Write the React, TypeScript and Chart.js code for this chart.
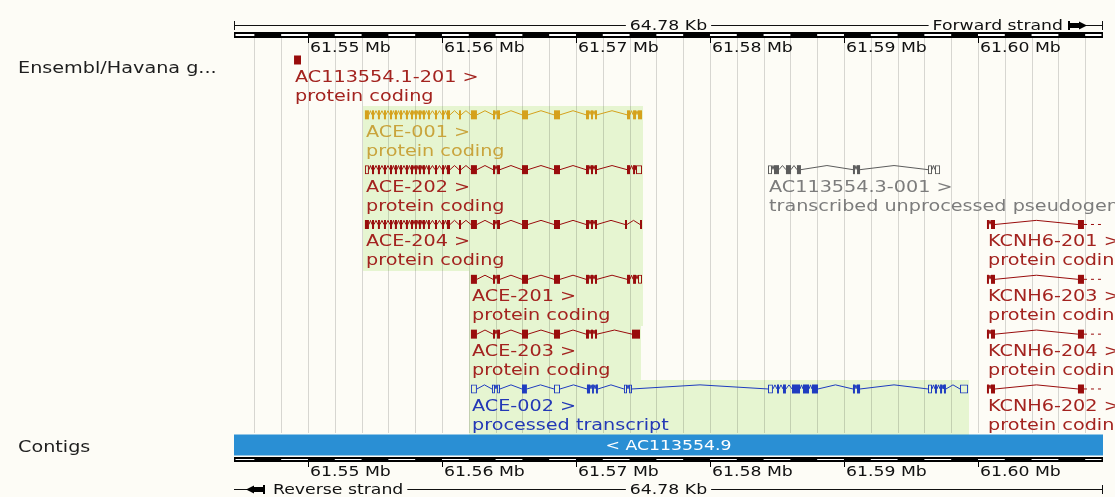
import React, { useEffect, useRef } from 'react';
import { Chart, registerables } from 'chart.js';

Chart.register(...registerables);

// ---------------- data ----------------
const VIEW_START = 61.54448; // Mb
const VIEW_END = 61.60933; // Mb
const REGION_LABEL = '64.78 Kb';
const RULER_TICKS = [61.55, 61.56, 61.57, 61.58, 61.59, 61.6];
const RULER_TICK_LABELS = ['61.55 Mb', '61.56 Mb', '61.57 Mb', '61.58 Mb', '61.59 Mb', '61.60 Mb'];
const RULER_BLOCK = 0.002; // Mb, ruler block / grid spacing
const TRACK_NAMES = ['Ensembl/Havana g...', 'Contigs'];
const STRAND_LABELS = ['Forward strand', 'Reverse strand'];

const CONTIG_NAME = '< AC113554.9';
const CONTIG_START = 61.53;
const CONTIG_END = 61.62;
const CONTIG_LANE = 7.02;

const TRANSCRIPT_NAMES = [
  'AC113554.1-201', 'ACE-001', 'ACE-202', 'AC113554.3-001', 'ACE-204', 'KCNH6-201',
  'ACE-201', 'KCNH6-203', 'ACE-203', 'KCNH6-204', 'ACE-002', 'KCNH6-202',
];
const TRANSCRIPT_BIOTYPES = [
  'protein coding', 'protein coding', 'protein coding', 'transcribed unprocessed pseudogene',
  'protein coding', 'protein coding', 'protein coding', 'protein coding', 'protein coding',
  'protein coding', 'processed transcript', 'protein coding',
];
const TRANSCRIPT_SOURCES = [
  'ensembl', 'merged', 'ensembl', 'pseudogene', 'ensembl', 'ensembl',
  'ensembl', 'ensembl', 'ensembl', 'ensembl', 'processed', 'ensembl',
];
const TRANSCRIPT_LANES = [0, 1, 2, 2, 3, 3, 4, 4, 5, 5, 6, 6];
const TRANSCRIPT_SELECTED = [false, true, true, false, true, false, true, false, true, false, true, false];
const TRANSCRIPT_CONTINUES = [false, false, false, false, false, true, false, true, false, true, false, true];

const ACE_5P_EXONS = [
  [61.55425, 61.55455], [61.55478, 61.55493], [61.55522, 61.55537], [61.55567, 61.55582],
  [61.55612, 61.55627], [61.55649, 61.55664], [61.55687, 61.55702], [61.55731, 61.55746],
  [61.55769, 61.55784], [61.55799, 61.55813], [61.55828, 61.55843], [61.55858, 61.55873],
  [61.55896, 61.5591], [61.55948, 61.55963], [61.56, 61.56015], [61.56037, 61.5606],
  [61.56127, 61.56142],
];
const ACE_3P_EXONS = [
  [61.56216, 61.56261], [61.56381, 61.56396], [61.56411, 61.56433], [61.56597, 61.56642],
  [61.56836, 61.56881], [61.57075, 61.57097], [61.57112, 61.57127], [61.57142, 61.57157],
];
const EXONS_AC113554_1_201 = [[61.54896, 61.54948]];
const EXONS_ACE_001 = [...ACE_5P_EXONS, ...ACE_3P_EXONS, [61.57381, 61.57403], [61.57426, 61.57448], [61.57463, 61.57493]];
const EXONS_ACE_202 = [...ACE_5P_EXONS.slice(1), ...ACE_3P_EXONS, [61.57381, 61.57403], [61.57426, 61.57441]];
const UTR_ACE_202 = [[61.55425, 61.55455], [61.57448, 61.57493]];
const EXONS_AC113554_3_001 = [[61.58478, 61.58515], [61.58567, 61.58605], [61.58649, 61.58679], [61.59067, 61.59082], [61.59097, 61.5912]];
const UTR_AC113554_3_001 = [[61.58433, 61.58463], [61.59627, 61.59657], [61.59679, 61.59717]];
const EXONS_ACE_204 = [...ACE_5P_EXONS, ...ACE_3P_EXONS, [61.57366, 61.57381], [61.57478, 61.57493]];
const EXONS_KCNH6 = [[61.60067, 61.60082], [61.60097, 61.60127], [61.60746, 61.60791]];
const EXONS_ACE_201 = [...ACE_3P_EXONS, [61.57381, 61.57403], [61.57426, 61.57448]];
const UTR_ACE_201 = [[61.57463, 61.57493]];
const EXONS_ACE_203 = [...ACE_3P_EXONS, [61.57418, 61.57478]];
const EXONS_ACE_002 = [
  [61.56597, 61.56634], [61.57082, 61.57105], [61.5712, 61.57134], [61.57149, 61.57164],
  [61.585, 61.58515], [61.58545, 61.58567], [61.58612, 61.58672], [61.58694, 61.58739],
  [61.58761, 61.58806], [61.59067, 61.59082], [61.59097, 61.5912], [61.59679, 61.59694],
  [61.59717, 61.59732], [61.59746, 61.59761],
];
const UTR_ACE_002 = [
  [61.56216, 61.56261], [61.56373, 61.56396], [61.56411, 61.56433], [61.56836, 61.56881],
  [61.57358, 61.57381], [61.57396, 61.57418], [61.58433, 61.5847], [61.59627, 61.59657],
  [61.59866, 61.59926],
];

const TRANSCRIPT_EXONS = [
  EXONS_AC113554_1_201, EXONS_ACE_001, EXONS_ACE_202, EXONS_AC113554_3_001, EXONS_ACE_204, EXONS_KCNH6,
  EXONS_ACE_201, EXONS_KCNH6, EXONS_ACE_203, EXONS_KCNH6, EXONS_ACE_002, EXONS_KCNH6,
];
const TRANSCRIPT_UTRS = [
  [], [], UTR_ACE_202, UTR_AC113554_3_001, [], [], UTR_ACE_201, [], [], [], UTR_ACE_002, [],
];

// ---------------- styles ----------------
const BG = '#fdfcf6';
const HIGHLIGHT = '#e6f5d1';
const GRID = 'rgba(0,0,0,0.15)';
const CONTIG_COLOR = '#2a8fd4';
const GLYPH_COLORS: Record<string, string> = {
  ensembl: '#990c0c', merged: '#d5a11c', processed: '#1f3cc0', pseudogene: '#5c5c5c',
};
const LABEL_COLORS: Record<string, string> = {
  ensembl: '#a3231f', merged: '#c9a43c', processed: '#2338b6', pseudogene: '#7c7c7c',
};
const FONT = '"DejaVu Sans", "Liberation Sans", sans-serif';
const SX = 1.28; // horizontal text stretch
const Y_MIN = -1.094;
const Y_MAX = 7.97;
const HAT = 0.075; // intron hat height (lane units)

function drawText(ctx: CanvasRenderingContext2D, s: string, x: number, y: number, size: number, color: string, align: CanvasTextAlign = 'left') {
  ctx.save();
  ctx.font = `${size}px ${FONT}`;
  ctx.fillStyle = color;
  ctx.textAlign = align;
  ctx.textBaseline = 'alphabetic';
  ctx.translate(x, y);
  ctx.scale(SX, 1);
  ctx.fillText(s, 0, 0);
  ctx.restore();
}
function textWidth(ctx: CanvasRenderingContext2D, s: string, size: number) {
  ctx.save();
  ctx.font = `${size}px ${FONT}`;
  const w = ctx.measureText(s).width * SX;
  ctx.restore();
  return w;
}
function hline(ctx: CanvasRenderingContext2D, a: number, b: number, y: number) {
  ctx.beginPath();
  ctx.moveTo(a, y);
  ctx.lineTo(b, y);
  ctx.stroke();
}
function vline(ctx: CanvasRenderingContext2D, x: number, a: number, b: number) {
  ctx.beginPath();
  ctx.moveTo(x, a);
  ctx.lineTo(x, b);
  ctx.stroke();
}

function extent(i: number) {
  const all = [...TRANSCRIPT_EXONS[i], ...TRANSCRIPT_UTRS[i]];
  return [Math.min(...all.map((e) => e[0])), Math.max(...all.map((e) => e[1]))];
}

function buildDatasets() {
  const ds: any[] = [];
  TRANSCRIPT_NAMES.forEach((_, i) => {
    const lane = TRANSCRIPT_LANES[i];
    const color = GLYPH_COLORS[TRANSCRIPT_SOURCES[i]];
    const exons = TRANSCRIPT_EXONS[i];
    const utrs = TRANSCRIPT_UTRS[i];
    const all = [...exons, ...utrs].sort((a, b) => a[0] - b[0]);
    const pts: any[] = [];
    for (let k = 0; k < all.length - 1; k++) {
      const e = all[k][1];
      const s = all[k + 1][0];
      if (s > e) {
        pts.push({ x: e, y: lane }, { x: (e + s) / 2, y: lane - HAT }, { x: s, y: lane }, { x: s, y: null });
      }
    }
    ds.push({
      type: 'line', indexAxis: 'x', data: pts, borderColor: color, borderWidth: 1,
      pointRadius: 0, fill: false, spanGaps: false, tension: 0, order: 2, clip: 0,
    });
    if (TRANSCRIPT_CONTINUES[i]) {
      const end = all[all.length - 1][1];
      ds.push({
        type: 'line', indexAxis: 'x', data: [{ x: end, y: lane }, { x: VIEW_END + 0.002, y: lane }],
        borderColor: color, borderWidth: 1, borderDash: [3, 4], pointRadius: 0, fill: false, order: 2, clip: 0,
      });
    }
    if (exons.length) {
      ds.push({
        type: 'bar', data: exons.map((e) => ({ x: [e[0], e[1]], y: lane })),
        backgroundColor: color, borderWidth: 0, barThickness: 9, stack: 'g', order: 1, clip: 0,
        inflateAmount: 0,
      });
    }
    if (utrs.length) {
      ds.push({
        type: 'bar', data: utrs.map((e) => ({ x: [e[0], e[1]], y: lane })),
        backgroundColor: 'rgba(0,0,0,0)', borderColor: color, borderWidth: 1, borderSkipped: false,
        barThickness: 9, stack: 'g', order: 1, clip: 0, inflateAmount: 0,
      });
    }
  });
  ds.push({
    type: 'bar', data: [{ x: [CONTIG_START, CONTIG_END], y: CONTIG_LANE }],
    backgroundColor: CONTIG_COLOR, borderWidth: 0, barThickness: 21, stack: 'g', order: 1, clip: 0,
    inflateAmount: 0,
  });
  return ds;
}

const genomePlugin = {
  id: 'genome',
  beforeDraw(chart: any) {
    const ctx = chart.ctx as CanvasRenderingContext2D;
    ctx.save();
    ctx.fillStyle = BG;
    ctx.fillRect(0, 0, chart.width, chart.height);
    ctx.restore();
  },
  beforeDatasetsDraw(chart: any) {
    const ctx = chart.ctx as CanvasRenderingContext2D;
    const xs = chart.scales.x;
    const ys = chart.scales.y;
    ctx.save();
    // highlights
    ctx.fillStyle = HIGHLIGHT;
    TRANSCRIPT_NAMES.forEach((_, i) => {
      if (!TRANSCRIPT_SELECTED[i]) return;
      const [s, e] = extent(i);
      const lane = TRANSCRIPT_LANES[i];
      const x0 = Math.round(xs.getPixelForValue(s)) - 2;
      const x1 = Math.round(xs.getPixelForValue(e)) + 1;
      const y0 = Math.round(ys.getPixelForValue(lane) - 8.5);
      const y1 = Math.round(ys.getPixelForValue(lane + 1) - 8.5);
      ctx.fillRect(x0, y0, x1 - x0, y1 - y0);
    });
    // grid
    ctx.strokeStyle = GRID;
    ctx.lineWidth = 1;
    for (let k = Math.ceil(VIEW_START / RULER_BLOCK); k * RULER_BLOCK <= VIEW_END; k++) {
      const x = Math.round(xs.getPixelForValue(k * RULER_BLOCK)) + 0.5;
      vline(ctx, x, 38, 433);
    }
    ctx.restore();
  },
  afterDatasetsDraw(chart: any) {
    const ctx = chart.ctx as CanvasRenderingContext2D;
    const xs = chart.scales.x;
    const ys = chart.scales.y;
    const area = chart.chartArea;
    const x0 = area.left;
    const x1 = area.right;
    const mid = (x0 + x1) / 2;
    ctx.save();

    // transcript labels
    TRANSCRIPT_NAMES.forEach((name, i) => {
      const [s] = extent(i);
      const x = Math.round(xs.getPixelForValue(s)) + 1;
      const y = ys.getPixelForValue(TRANSCRIPT_LANES[i]);
      const c = LABEL_COLORS[TRANSCRIPT_SOURCES[i]];
      drawText(ctx, name + ' >', x, y + 22, 15, c);
      drawText(ctx, TRANSCRIPT_BIOTYPES[i], x, y + 41, 15, c);
    });

    // contig name
    drawText(ctx, CONTIG_NAME, mid, ys.getPixelForValue(CONTIG_LANE) + 5, 13.5, '#ffffff', 'center');

    // track names
    drawText(ctx, TRACK_NAMES[0], 18, 73, 15, '#1e1e1e');
    drawText(ctx, TRACK_NAMES[1], 18, 451.5, 15, '#1e1e1e');

    // rulers
    const drawBar = (top: number, h: number) => {
      ctx.fillStyle = '#000';
      ctx.fillRect(x0, top, x1 - x0, h);
      ctx.fillStyle = '#ffffff';
      for (let k = Math.floor(VIEW_START / RULER_BLOCK); k * RULER_BLOCK < VIEW_END; k++) {
        if (k % 2 !== 0) continue;
        const a = Math.max(xs.getPixelForValue(k * RULER_BLOCK), x0 + 1.5);
        const b = Math.min(xs.getPixelForValue((k + 1) * RULER_BLOCK), x1 - 1.5);
        if (b > a) ctx.fillRect(a, top + 2, b - a, h - 4);
      }
    };
    ctx.strokeStyle = '#000';
    ctx.lineWidth = 1;
    drawBar(32, 6);
    drawBar(457, 5);
    RULER_TICKS.forEach((v, k) => {
      const x = Math.round(xs.getPixelForValue(v)) + 0.5;
      ctx.strokeStyle = '#000';
      vline(ctx, x, 38, 43);
      vline(ctx, x, 462, 467);
      drawText(ctx, RULER_TICK_LABELS[k], x + 1.5, 52, 13.5, '#111');
      drawText(ctx, RULER_TICK_LABELS[k], x + 1.5, 476, 13.5, '#111');
    });

    // top scale line
    const kbW = textWidth(ctx, REGION_LABEL, 13.5);
    const fwdW = textWidth(ctx, STRAND_LABELS[0], 13.5);
    const fwdRight = x1 - 40;
    ctx.strokeStyle = '#111';
    let ty = 25.5;
    hline(ctx, x0, mid - kbW / 2 - 4, ty);
    drawText(ctx, REGION_LABEL, mid, 30, 13.5, '#111', 'center');
    hline(ctx, mid + kbW / 2 + 4, fwdRight - fwdW - 4, ty);
    drawText(ctx, STRAND_LABELS[0], fwdRight, 30, 13.5, '#111', 'right');
    // forward icon
    ctx.fillStyle = '#000';
    const ix = fwdRight + 5;
    ctx.fillRect(ix, 21, 2, 9);
    ctx.fillRect(ix + 2, 23, 9, 5);
    ctx.beginPath();
    ctx.moveTo(ix + 11, 21.5);
    ctx.lineTo(ix + 19, 25.5);
    ctx.lineTo(ix + 11, 29.5);
    ctx.closePath();
    ctx.fill();
    hline(ctx, ix + 18, x1, ty);
    vline(ctx, x0 + 0.5, 21, 30);
    vline(ctx, x1 - 0.5, 21, 30);

    // bottom scale line
    ty = 489.5;
    const revX = x0 + 39;
    const revW = textWidth(ctx, STRAND_LABELS[1], 13.5);
    hline(ctx, x0, x0 + 13, ty);
    const jx = x0 + 12;
    ctx.beginPath();
    ctx.moveTo(jx, ty);
    ctx.lineTo(jx + 8, ty - 4);
    ctx.lineTo(jx + 8, ty + 4);
    ctx.closePath();
    ctx.fill();
    ctx.fillRect(jx + 8, ty - 2.5, 9, 5);
    ctx.fillRect(jx + 17, ty - 4.5, 2, 9);
    drawText(ctx, STRAND_LABELS[1], revX, 494, 13.5, '#111');
    hline(ctx, revX + revW + 4, mid - kbW / 2 - 4, ty);
    drawText(ctx, REGION_LABEL, mid, 494, 13.5, '#111', 'center');
    hline(ctx, mid + kbW / 2 + 4, x1, ty);
    vline(ctx, x1 - 0.5, ty - 4.5, ty + 4.5);

    ctx.restore();
  },
};

export default function App() {
  const ref = useRef<HTMLCanvasElement>(null);
  useEffect(() => {
    document.body.style.margin = '0';
    const canvas = ref.current;
    if (!canvas) return;
    const chart = new Chart(canvas, {
      type: 'bar',
      data: { datasets: buildDatasets() },
      options: {
        indexAxis: 'y',
        animation: false,
        responsive: false,
        maintainAspectRatio: false,
        devicePixelRatio: 1,
        events: [],
        layout: { padding: { left: 234, right: 12, top: 0, bottom: 0 } },
        scales: {
          x: { type: 'linear', min: VIEW_START, max: VIEW_END, display: false, stacked: false, beginAtZero: false, offset: false },
          y: { type: 'linear', min: Y_MIN, max: Y_MAX, reverse: true, display: false, offset: false, beginAtZero: false },
        },
        plugins: { legend: { display: false }, tooltip: { enabled: false } },
      } as any,
      plugins: [genomePlugin],
    } as any);
    return () => chart.destroy();
  }, []);
  return (
    <canvas
      ref={ref}
      width={1115}
      height={497}
      style={{ display: 'block', position: 'fixed', left: 0, top: 0, width: 1115, height: 497 }}
    />
  );
}
